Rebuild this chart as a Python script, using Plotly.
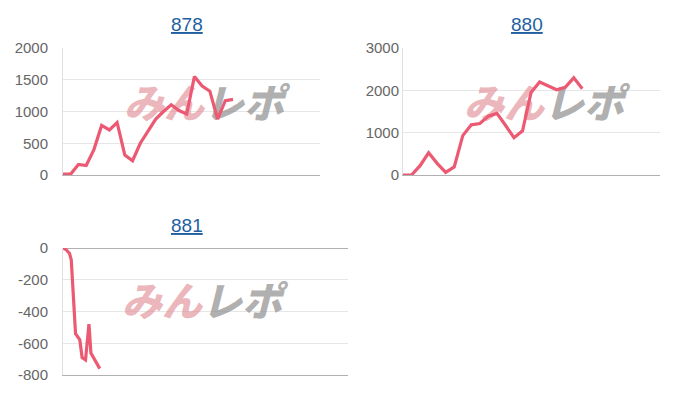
import plotly.graph_objects as go

# ---- data ----
titles = ["878", "880", "881"]

x1 = list(range(23))
y1 = [15, 15, 165, 150, 400, 780, 710, 825, 315, 225, 500, 690, 880, 1000, 1105, 1015, 960,
      1550, 1400, 1320, 880, 1170, 1190]

x2 = list(range(22))
y2 = [0, 0, 220, 525, 275, 60, 190, 930, 1185, 1215, 1390, 1455, 1175, 880, 1045, 1950,
      2195, 2105, 2015, 2070, 2295, 2040]

x3 = [0, 1.2, 2.3, 2.9, 4.4, 5.9, 6.7, 7.9, 9.1, 9.8, 12.9]
y3 = [0, -12, -35, -75, -540, -578, -690, -705, -480, -662, -760]

x_ranges = [[0, 33.25], [0, 30.1], [0, 100]]
y_ranges = [[0, 2000], [0, 3000], [-800, 0]]
y_tickvals = [[0, 500, 1000, 1500, 2000],
              [0, 1000, 2000, 3000],
              [-800, -600, -400, -200, 0]]
y_ticktext = [["0", "500", "1000", "1500", "2000"],
              ["0", "1000", "2000", "3000"],
              ["-800", "-600", "-400", "-200", "0"]]

LINE = "#eb5a72"
GRID = "#e6e6e6"
AXIS = "#b0b0b0"
TICK = "#666666"
TITLE = "#1f5f9f"

W, H = 700, 400
doms = [
    ((63, 320), (48, 175)),
    ((403, 660), (48, 175)),
    ((63, 348), (248, 375)),
]
wm_frac = [(0.549, 0.53), (0.549, 0.53), (0.488, 0.54)]
standoffs = [11, 0, 11]

fig = go.Figure()
datasets = [(x1, y1), (x2, y2), (x3, y3)]

wm_text = ("<span style='color:rgba(226,140,148,0.65)'>みん</span>"
           "<span style='color:rgba(150,150,150,0.75)'>レポ</span>")

for i, (xs, ys) in enumerate(datasets):
    n = "" if i == 0 else str(i + 1)
    xr, yr = x_ranges[i], y_ranges[i]
    fx, fy = wm_frac[i]
    # watermark (beneath the line)
    fig.add_trace(go.Scatter(
        x=[xr[0] + fx * (xr[1] - xr[0])], y=[yr[0] + fy * (yr[1] - yr[0])],
        mode="text", text=[wm_text], textposition="middle center",
        textfont=dict(family="Noto Sans CJK JP", size=40, weight=900, style="italic"),
        hoverinfo="skip", showlegend=False, xaxis="x" + n, yaxis="y" + n))
    fig.add_trace(go.Scatter(
        x=xs, y=ys, mode="lines", line=dict(color=LINE, width=3.2),
        showlegend=False, xaxis="x" + n, yaxis="y" + n))

    (xa, xb), (ya, yb) = doms[i]
    fig.layout["xaxis" + n] = dict(
        domain=[xa / W, xb / W], range=xr, anchor="y" + n,
        showticklabels=False, showgrid=False, zeroline=False, automargin=False,
        showline=True, linecolor=AXIS, linewidth=1, fixedrange=True)
    fig.layout["yaxis" + n] = dict(
        domain=[1 - yb / H, 1 - ya / H], range=yr, anchor="x" + n,
        tickmode="array", tickvals=y_tickvals[i], ticktext=y_ticktext[i],
        showgrid=True, gridcolor=GRID, gridwidth=1, automargin=False,
        zeroline=(i == 2), zerolinecolor=AXIS, zerolinewidth=1,
        showline=True, linecolor="#e0e0e0", linewidth=1,
        ticks="", ticklabelstandoff=standoffs[i],
        tickfont=dict(family="Liberation Sans, Arial", size=15, color=TICK))

title_pos = [(187, 24), (527, 24), (187, 225)]
for t, (tx, ty) in zip(titles, title_pos):
    fig.add_annotation(
        x=tx / W, y=1 - ty / H, xref="paper", yref="paper",
        text="<u>" + t + "</u>", showarrow=False,
        xanchor="center", yanchor="middle",
        font=dict(family="Liberation Sans, Arial", size=19, color=TITLE))

fig.update_layout(
    width=W, height=H, margin=dict(l=0, r=0, t=0, b=0, autoexpand=False),
    paper_bgcolor="white", plot_bgcolor="white", showlegend=False)

fig.write_html("out.html", config={"displayModeBar": False, "staticPlot": True},
               post_script="document.body.style.margin='0';document.body.style.overflow='hidden';")
